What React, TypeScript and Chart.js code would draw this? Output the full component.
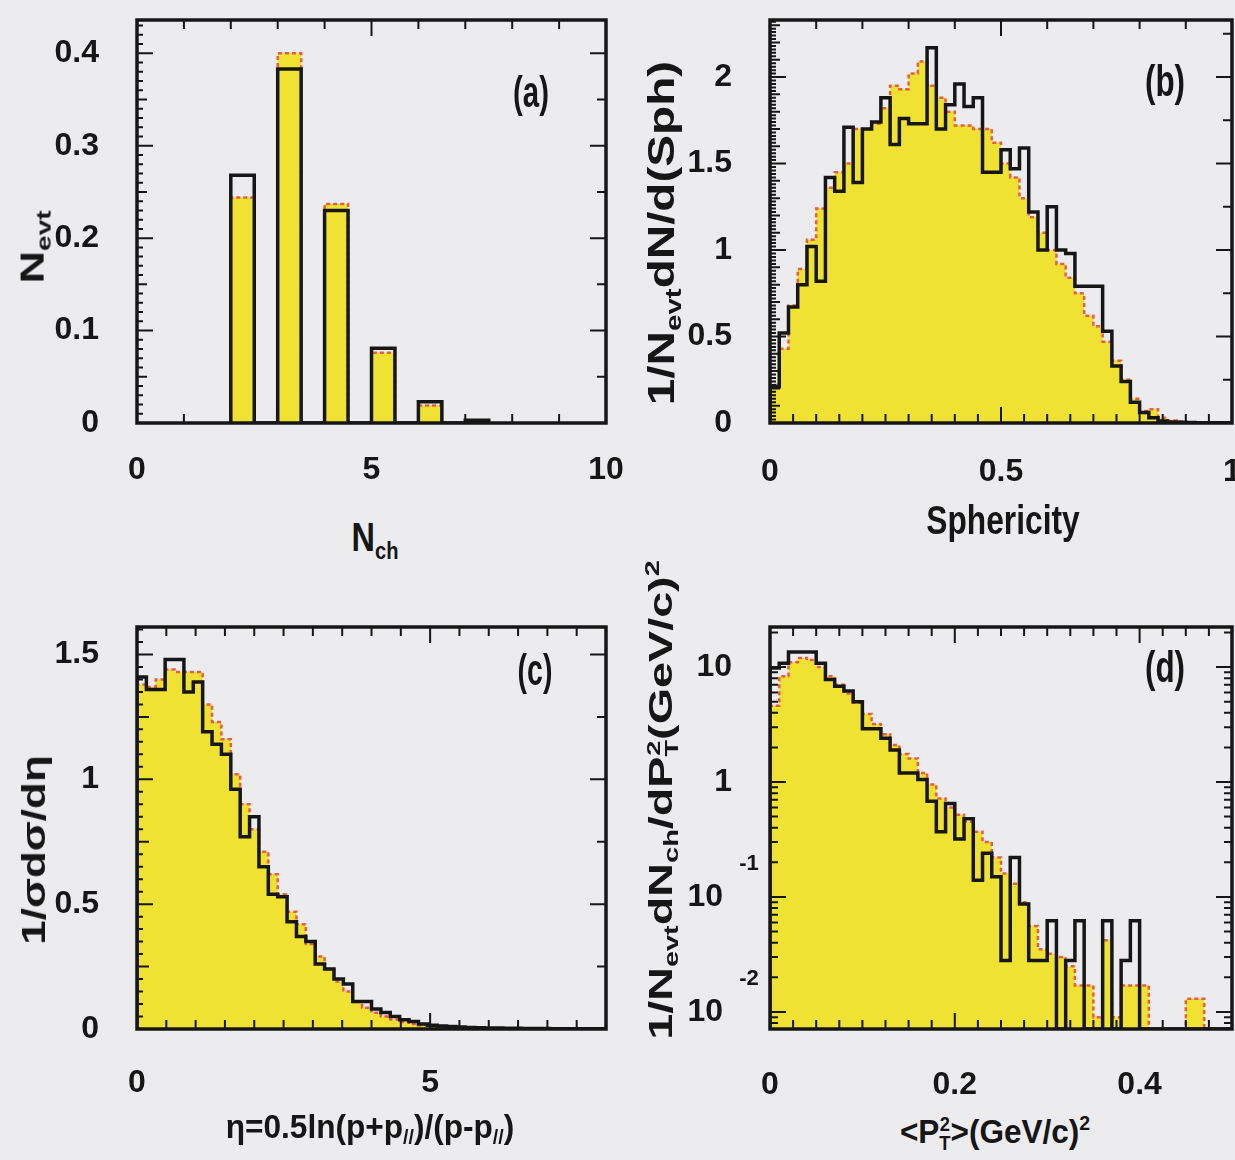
import React, { useEffect, useLayoutEffect, useRef, useState } from 'react';
import { Chart, registerables } from 'chart.js';

Chart.register(...registerables);

// ---------------- data ----------------
// (a) charged multiplicity
const nchCategories = [2, 3, 4, 5, 6, 7];
const nchDataValues = [0.268, 0.383, 0.230, 0.081, 0.023, 0.003];
const nchMcValues = [0.244, 0.400, 0.237, 0.076, 0.019, 0.002];
const nchBarWidth = 0.5;

// (b) sphericity, bins of 0.02 from 0
const sphBinWidth = 0.02;
const sphDataValues = [
  0.21, 0.52, 0.67, 0.80, 1.02, 0.82, 1.42, 1.34, 1.71, 1.39,
  1.70, 1.74, 1.88, 1.61, 1.76, 1.73, 1.73, 2.17, 1.70, 1.84,
  1.96, 1.83, 1.88, 1.45, 1.45, 1.58, 1.47, 1.59, 1.22, 1.00,
  1.25, 1.00, 0.98, 0.79, 0.79, 0.79, 0.53, 0.33, 0.24, 0.12,
  0.06, 0.03, 0.012, 0.006, 0.004, 0.003, 0.002, 0.002, 0.001, 0.001,
];
const sphMcValues = [
  0.22, 0.43, 0.68, 0.89, 1.06, 1.24, 1.36, 1.45, 1.50, 1.70,
  1.70, 1.73, 1.82, 1.95, 1.93, 2.02, 2.09, 1.95, 1.88, 1.80,
  1.72, 1.72, 1.70, 1.70, 1.62, 1.50, 1.42, 1.30, 1.19, 1.10,
  1.00, 0.92, 0.84, 0.75, 0.62, 0.56, 0.47, 0.36, 0.25, 0.14,
  0.07, 0.08, 0.03, 0.015, 0.008, 0.005, 0.003, 0.002, 0.001, 0.001,
];

// (c) pseudo-rapidity, bins of 0.16 from 0
const etaBinWidth = 0.16;
const etaDataValues = [
  1.41, 1.36, 1.36, 1.48, 1.48, 1.35, 1.39, 1.19, 1.14, 1.10,
  0.96, 0.77, 0.85, 0.65, 0.54, 0.53, 0.43, 0.37, 0.35, 0.26,
  0.24, 0.20, 0.18, 0.11, 0.11, 0.08, 0.066, 0.05, 0.037, 0.03,
  0.02, 0.015, 0.012, 0.01, 0.008, 0.006, 0.005, 0.004, 0.004, 0.003,
  0.003, 0.002, 0.002, 0.002, 0.001, 0.001, 0.001, 0.001, 0.001, 0.001,
];
const etaMcValues = [
  1.38, 1.37, 1.40, 1.44, 1.43, 1.43, 1.43, 1.30, 1.23, 1.16,
  1.02, 0.90, 0.80, 0.71, 0.62, 0.54, 0.47, 0.42, 0.34, 0.29,
  0.24, 0.19, 0.15, 0.11, 0.085, 0.065, 0.05, 0.038, 0.028, 0.02,
  0.014, 0.01, 0.007, 0.005, 0.004, 0.003, 0.002, 0.002, 0.001, 0.001,
  0.001, 0, 0, 0, 0, 0, 0, 0, 0, 0,
];

// (d) <PT^2>, bins of 0.01 from 0 (log y)
const pt2BinWidth = 0.01;
const pt2DataValues = [
  9.8, 10.8, 13.5, 13.5, 13.5, 10.8, 7.8, 6.8, 6.2, 5.0,
  2.9, 2.9, 2.4, 1.9, 1.2, 1.2, 1.05, 0.68, 0.37, 0.65,
  0.32, 0.48, 0.14, 0.24, 0.15, 0.028, 0.22, 0.087, 0.028, 0.028,
  0.062, 0, 0.028, 0.062, 0, 0, 0.062, 0, 0.028, 0.062,
  0, 0, 0, 0, 0, 0, 0, 0, 0, 0,
];
const pt2McValues = [
  4.6, 8.3, 11.0, 12.0, 11.5, 10.0, 8.3, 7.0, 5.9, 4.9,
  3.9, 3.2, 2.6, 2.1, 1.75, 1.6, 1.2, 0.95, 0.72, 0.6,
  0.52, 0.45, 0.37, 0.3, 0.22, 0.16, 0.13, 0.09, 0.056, 0.035,
  0.032, 0.03, 0.025, 0.017, 0.017, 0.009, 0.042, 0.009, 0.017, 0.017,
  0.017, 0, 0, 0, 0, 0.013, 0.013, 0, 0, 0,
];

// tick labels
const nchTicksX = [0, 5, 10];
const nchTicksY = [0, 0.1, 0.2, 0.3, 0.4];
const sphTicksX = [0, 0.5, 1];
const sphTicksY = [0, 0.5, 1, 1.5, 2];
const etaTicksX = [0, 5];
const etaTicksY = [0, 0.5, 1, 1.5];
const pt2TicksX = [0, 0.2, 0.4];
const pt2TicksY = [0.01, 0.1, 1, 10];

// ---------------- styling ----------------
const BG = '#ececee';
const YELLOW = '#f0e232';
const RED = '#ee5a3c';
const INK = '#161616';
const FONT = "'Liberation Sans', Arial, sans-serif";
const TICK_SIZE = 32;
const Y_AXIS_W = 130;
const PAD_TOP = 15;
const X_AXIS_H = 80;

type Level = { step: number; len: number };
type SideSpec = Level[] | 'log';

interface PanelDef {
  key: string;
  frame: { left: number; top: number; right: number; bottom: number };
  padRight: number;
  xMin: number; xMax: number; yMin: number; yMax: number;
  logY?: boolean;
  xTicks: number[]; yTicks: number[];
  yLabel: (v: number) => string;
  xPad: number;
  dataPts: { x: number; y: number }[];
  mcPts: { x: number; y: number }[];
  sides: { left: SideSpec; right: SideSpec; top: SideSpec; bottom: SideSpec };
  supers?: { v: number; t: string }[];
}

function histPoints(width: number, values: number[], floor: number) {
  const pts = [{ x: 0, y: floor }];
  values.forEach((v, i) => pts.push({ x: i * width, y: Math.max(v, floor) }));
  pts.push({ x: values.length * width, y: floor });
  return pts;
}

function barPoints(cats: number[], values: number[], width: number) {
  const pts = [{ x: cats[0], y: 0 }];
  cats.forEach((c, i) => {
    pts.push({ x: c, y: values[i] });
    pts.push({ x: c + width, y: 0 });
  });
  return pts;
}

const fmt = (v: number) => String(v);

const PANELS: PanelDef[] = [
  {
    key: 'a',
    frame: { left: 137, top: 20, right: 606, bottom: 423 },
    padRight: 20,
    xMin: 0, xMax: 10, yMin: 0, yMax: 0.436,
    xTicks: nchTicksX, yTicks: nchTicksY, yLabel: fmt, xPad: 20,
    dataPts: barPoints(nchCategories, nchDataValues, nchBarWidth),
    mcPts: barPoints(nchCategories, nchMcValues, nchBarWidth),
    sides: {
      left: [{ step: 0.1, len: 16 }, { step: 0.05, len: 10 }, { step: 0.01, len: 6 }],
      right: [{ step: 0.1, len: 16 }, { step: 0.05, len: 9 }],
      bottom: [{ step: 5, len: 16 }, { step: 1, len: 9 }],
      top: [{ step: 5, len: 16 }, { step: 1, len: 9 }],
    },
  },
  {
    key: 'b',
    frame: { left: 770, top: 20, right: 1232, bottom: 423 },
    padRight: 3,
    xMin: 0, xMax: 1, yMin: 0, yMax: 2.33,
    xTicks: sphTicksX, yTicks: sphTicksY, yLabel: fmt, xPad: 22,
    dataPts: histPoints(sphBinWidth, sphDataValues, 0),
    mcPts: histPoints(sphBinWidth, sphMcValues, 0),
    sides: {
      left: [{ step: 0.5, len: 16 }, { step: 0.1, len: 10 }, { step: 0.02, len: 6 }],
      right: [{ step: 0.5, len: 16 }, { step: 0.25, len: 9 }],
      bottom: [{ step: 0.5, len: 16 }, { step: 0.05, len: 9 }],
      top: [{ step: 0.5, len: 16 }, { step: 0.1, len: 9 }],
    },
  },
  {
    key: 'c',
    frame: { left: 137, top: 627, right: 606, bottom: 1029 },
    padRight: 20,
    xMin: 0, xMax: 8, yMin: 0, yMax: 1.61,
    xTicks: etaTicksX, yTicks: etaTicksY, yLabel: fmt, xPad: 27,
    dataPts: histPoints(etaBinWidth, etaDataValues, 0),
    mcPts: histPoints(etaBinWidth, etaMcValues, 0),
    sides: {
      left: [{ step: 0.5, len: 16 }, { step: 0.25, len: 12 }, { step: 0.05, len: 6 }],
      right: [{ step: 0.5, len: 16 }, { step: 0.25, len: 9 }],
      bottom: [{ step: 5, len: 16 }, { step: 0.5, len: 9 }],
      top: [{ step: 5, len: 16 }, { step: 0.5, len: 9 }],
    },
  },
  {
    key: 'd',
    frame: { left: 770, top: 627, right: 1232, bottom: 1029 },
    padRight: 3,
    xMin: 0, xMax: 0.5, yMin: 0.0071, yMax: 22.3, logY: true,
    xTicks: pt2TicksX, yTicks: pt2TicksY,
    yLabel: (v: number) => (v >= 1 ? String(v) : '10 '),
    xPad: 29,
    dataPts: histPoints(pt2BinWidth, pt2DataValues, 0.0071),
    mcPts: histPoints(pt2BinWidth, pt2McValues, 0.0071),
    sides: {
      left: 'log',
      right: 'log',
      bottom: [{ step: 0.2, len: 16 }, { step: 0.025, len: 9 }],
      top: [{ step: 0.2, len: 16 }, { step: 0.025, len: 9 }],
    },
    supers: [{ v: 0.1, t: '-1' }, { v: 0.01, t: '-2' }],
  },
];

function tickList(min: number, max: number, spec: SideSpec) {
  const out: { v: number; len: number }[] = [];
  if (spec === 'log') {
    for (let d = Math.floor(Math.log10(min)); d <= Math.ceil(Math.log10(max)); d++) {
      for (let m = 1; m <= 9; m++) {
        const v = m * Math.pow(10, d);
        if (v >= min && v <= max) out.push({ v, len: m === 1 ? 16 : 8 });
      }
    }
    return out;
  }
  spec.forEach(({ step, len }) => {
    for (let k = Math.ceil(min / step - 1e-9); k * step <= max + 1e-9; k++) out.push({ v: k * step, len });
  });
  return out;
}

function buildConfig(def: PanelDef): any {
  const font = { family: FONT, size: TICK_SIZE, weight: 'bold' };
  const framePlugin = {
    id: 'frame_' + def.key,
    afterDatasetsDraw(chart: any) {
      const { ctx, chartArea: a, scales } = chart;
      const xs = scales.x;
      const ys = scales.y;
      ctx.save();
      ctx.strokeStyle = INK;
      ctx.lineWidth = 2;
      ctx.beginPath();
      tickList(def.yMin, def.yMax, def.sides.left).forEach(({ v, len }) => {
        const p = ys.getPixelForValue(v);
        ctx.moveTo(a.left, p); ctx.lineTo(a.left + len, p);
      });
      tickList(def.yMin, def.yMax, def.sides.right).forEach(({ v, len }) => {
        const p = ys.getPixelForValue(v);
        ctx.moveTo(a.right, p); ctx.lineTo(a.right - len, p);
      });
      tickList(def.xMin, def.xMax, def.sides.bottom).forEach(({ v, len }) => {
        const p = xs.getPixelForValue(v);
        ctx.moveTo(p, a.bottom); ctx.lineTo(p, a.bottom - len);
      });
      tickList(def.xMin, def.xMax, def.sides.top).forEach(({ v, len }) => {
        const p = xs.getPixelForValue(v);
        ctx.moveTo(p, a.top); ctx.lineTo(p, a.top + len);
      });
      ctx.stroke();
      ctx.lineWidth = 3.5;
      ctx.strokeRect(a.left, a.top, a.right - a.left, a.bottom - a.top);
      if (def.supers) {
        ctx.fillStyle = INK;
        ctx.font = `bold 22px ${FONT}`;
        ctx.textAlign = 'center';
        ctx.textBaseline = 'middle';
        def.supers.forEach(({ v, t }) => {
          ctx.fillText(t, a.left - 21, ys.getPixelForValue(v) - 33);
        });
      }
      ctx.restore();
    },
  };
  return {
    type: 'line',
    data: {
      datasets: [
        {
          label: 'data',
          data: def.dataPts,
          stepped: 'before',
          borderColor: INK,
          borderWidth: 3.5,
          fill: false,
          pointRadius: 0,
          order: 0,
        },
        {
          label: 'MC',
          data: def.mcPts,
          stepped: 'before',
          borderColor: RED,
          borderWidth: 2.5,
          borderDash: [4, 3],
          backgroundColor: YELLOW,
          fill: 'start',
          pointRadius: 0,
          order: 1,
        },
      ],
    },
    options: {
      animation: false,
      responsive: false,
      maintainAspectRatio: false,
      events: [],
      layout: { padding: { left: 0, right: def.padRight, top: PAD_TOP, bottom: 0 } },
      plugins: { legend: { display: false }, tooltip: { enabled: false } },
      scales: {
        x: {
          type: 'linear',
          min: def.xMin,
          max: def.xMax,
          bounds: 'data',
          grid: { display: false },
          border: { display: false },
          ticks: {
            font,
            color: INK,
            padding: def.xPad,
            autoSkip: false,
            maxRotation: 0,
            callback: (v: number) => fmt(v),
          },
          afterBuildTicks: (s: any) => { s.ticks = def.xTicks.map((v) => ({ value: v })); },
          afterFit: (s: any) => { s.height = X_AXIS_H; s.paddingLeft = 0; s.paddingRight = 0; },
        },
        y: {
          type: def.logY ? 'logarithmic' : 'linear',
          min: def.yMin,
          max: def.yMax,
          bounds: 'data',
          grid: { display: false },
          border: { display: false },
          ticks: {
            font,
            color: INK,
            padding: 30,
            autoSkip: false,
            callback: (v: number) => def.yLabel(v),
          },
          afterBuildTicks: (s: any) => { s.ticks = def.yTicks.map((v) => ({ value: v })); },
          afterFit: (s: any) => { s.width = Y_AXIS_W; s.paddingTop = 0; s.paddingBottom = 0; },
        },
      },
    },
    plugins: [framePlugin],
  };
}

function HistChart({ def }: { def: PanelDef }) {
  const ref = useRef<HTMLCanvasElement>(null);
  useEffect(() => {
    const chart = new Chart(ref.current as HTMLCanvasElement, buildConfig(def));
    return () => chart.destroy();
  }, [def]);
  const { left, top, right, bottom } = def.frame;
  const width = Y_AXIS_W + (right - left) + def.padRight;
  const height = PAD_TOP + (bottom - top) + X_AXIS_H;
  return (
    <canvas
      ref={ref}
      width={width}
      height={height}
      style={{ position: 'absolute', left: left - Y_AXIS_W, top: top - PAD_TOP, width, height }}
    />
  );
}

function FitText(props: {
  x: number; y: number; length: number; size: number; rotate?: boolean; children: React.ReactNode;
}) {
  const { x, y, length, size, rotate, children } = props;
  const ref = useRef<HTMLSpanElement>(null);
  const [sx, setSx] = useState(1);
  useLayoutEffect(() => {
    if (ref.current) {
      const w = ref.current.offsetWidth;
      if (w > 0) setSx(length / w);
    }
  }, [length]);
  return (
    <span
      ref={ref}
      style={{
        position: 'absolute',
        left: x,
        top: y,
        whiteSpace: 'nowrap',
        fontFamily: FONT,
        fontWeight: 700,
        fontSize: size,
        lineHeight: 1,
        color: INK,
        transformOrigin: 'center',
        transform: `translate(-50%, -50%) ${rotate ? 'rotate(-90deg) ' : ''}scaleX(${sx})`,
      }}
    >
      {children}
    </span>
  );
}

const sub: React.CSSProperties = { fontSize: '0.62em', verticalAlign: '-0.32em' };
const sup: React.CSSProperties = { fontSize: '0.62em', verticalAlign: '0.62em' };
const stackBox: React.CSSProperties = {
  display: 'inline-flex',
  flexDirection: 'column',
  fontSize: '0.58em',
  lineHeight: 0.95,
  verticalAlign: 'middle',
  alignItems: 'center',
};

export default function App() {
  return (
    <div
      style={{
        position: 'absolute',
        left: 0,
        top: 0,
        width: 1235,
        height: 1160,
        background: BG,
        overflow: 'hidden',
      }}
    >
      {PANELS.map((p) => (
        <HistChart key={p.key} def={p} />
      ))}

      {/* axis titles */}
      <FitText x={34} y={247} length={73} size={34} rotate>
        N<span style={sub}>evt</span>
      </FitText>
      <FitText x={375} y={540} length={47} size={40}>
        N<span style={sub}>ch</span>
      </FitText>
      <FitText x={665} y={233} length={344} size={36} rotate>
        1/N<span style={sub}>evt</span>dN/d(Sph)
      </FitText>
      <FitText x={1003} y={520} length={153} size={40}>
        Sphericity
      </FitText>
      <FitText x={33} y={850} length={190} size={34} rotate>
        1/σdσ/dη
      </FitText>
      <FitText x={370} y={1128} length={289} size={34}>
        η=0.5ln(p+p<span style={sub}>//</span>)/(p-p<span style={sub}>//</span>)
      </FitText>
      <FitText x={662} y={800} length={480} size={33} rotate>
        1/N<span style={sub}>evt</span>dN<span style={sub}>ch</span>/dP
        <span style={stackBox}><span>2</span><span>T</span></span>
        (GeV/c)<span style={sup}>2</span>
      </FitText>
      <FitText x={995} y={1132} length={190} size={34}>
        &lt;P<span style={stackBox}><span>2</span><span>T</span></span>&gt;(GeV/c)<span style={sup}>2</span>
      </FitText>

      {/* panel labels */}
      <FitText x={531} y={92} length={36} size={44}>(a)</FitText>
      <FitText x={1165} y={81} length={40} size={44}>(b)</FitText>
      <FitText x={535} y={670} length={35} size={44}>(c)</FitText>
      <FitText x={1165} y={667} length={40} size={44}>(d)</FitText>
    </div>
  );
}
